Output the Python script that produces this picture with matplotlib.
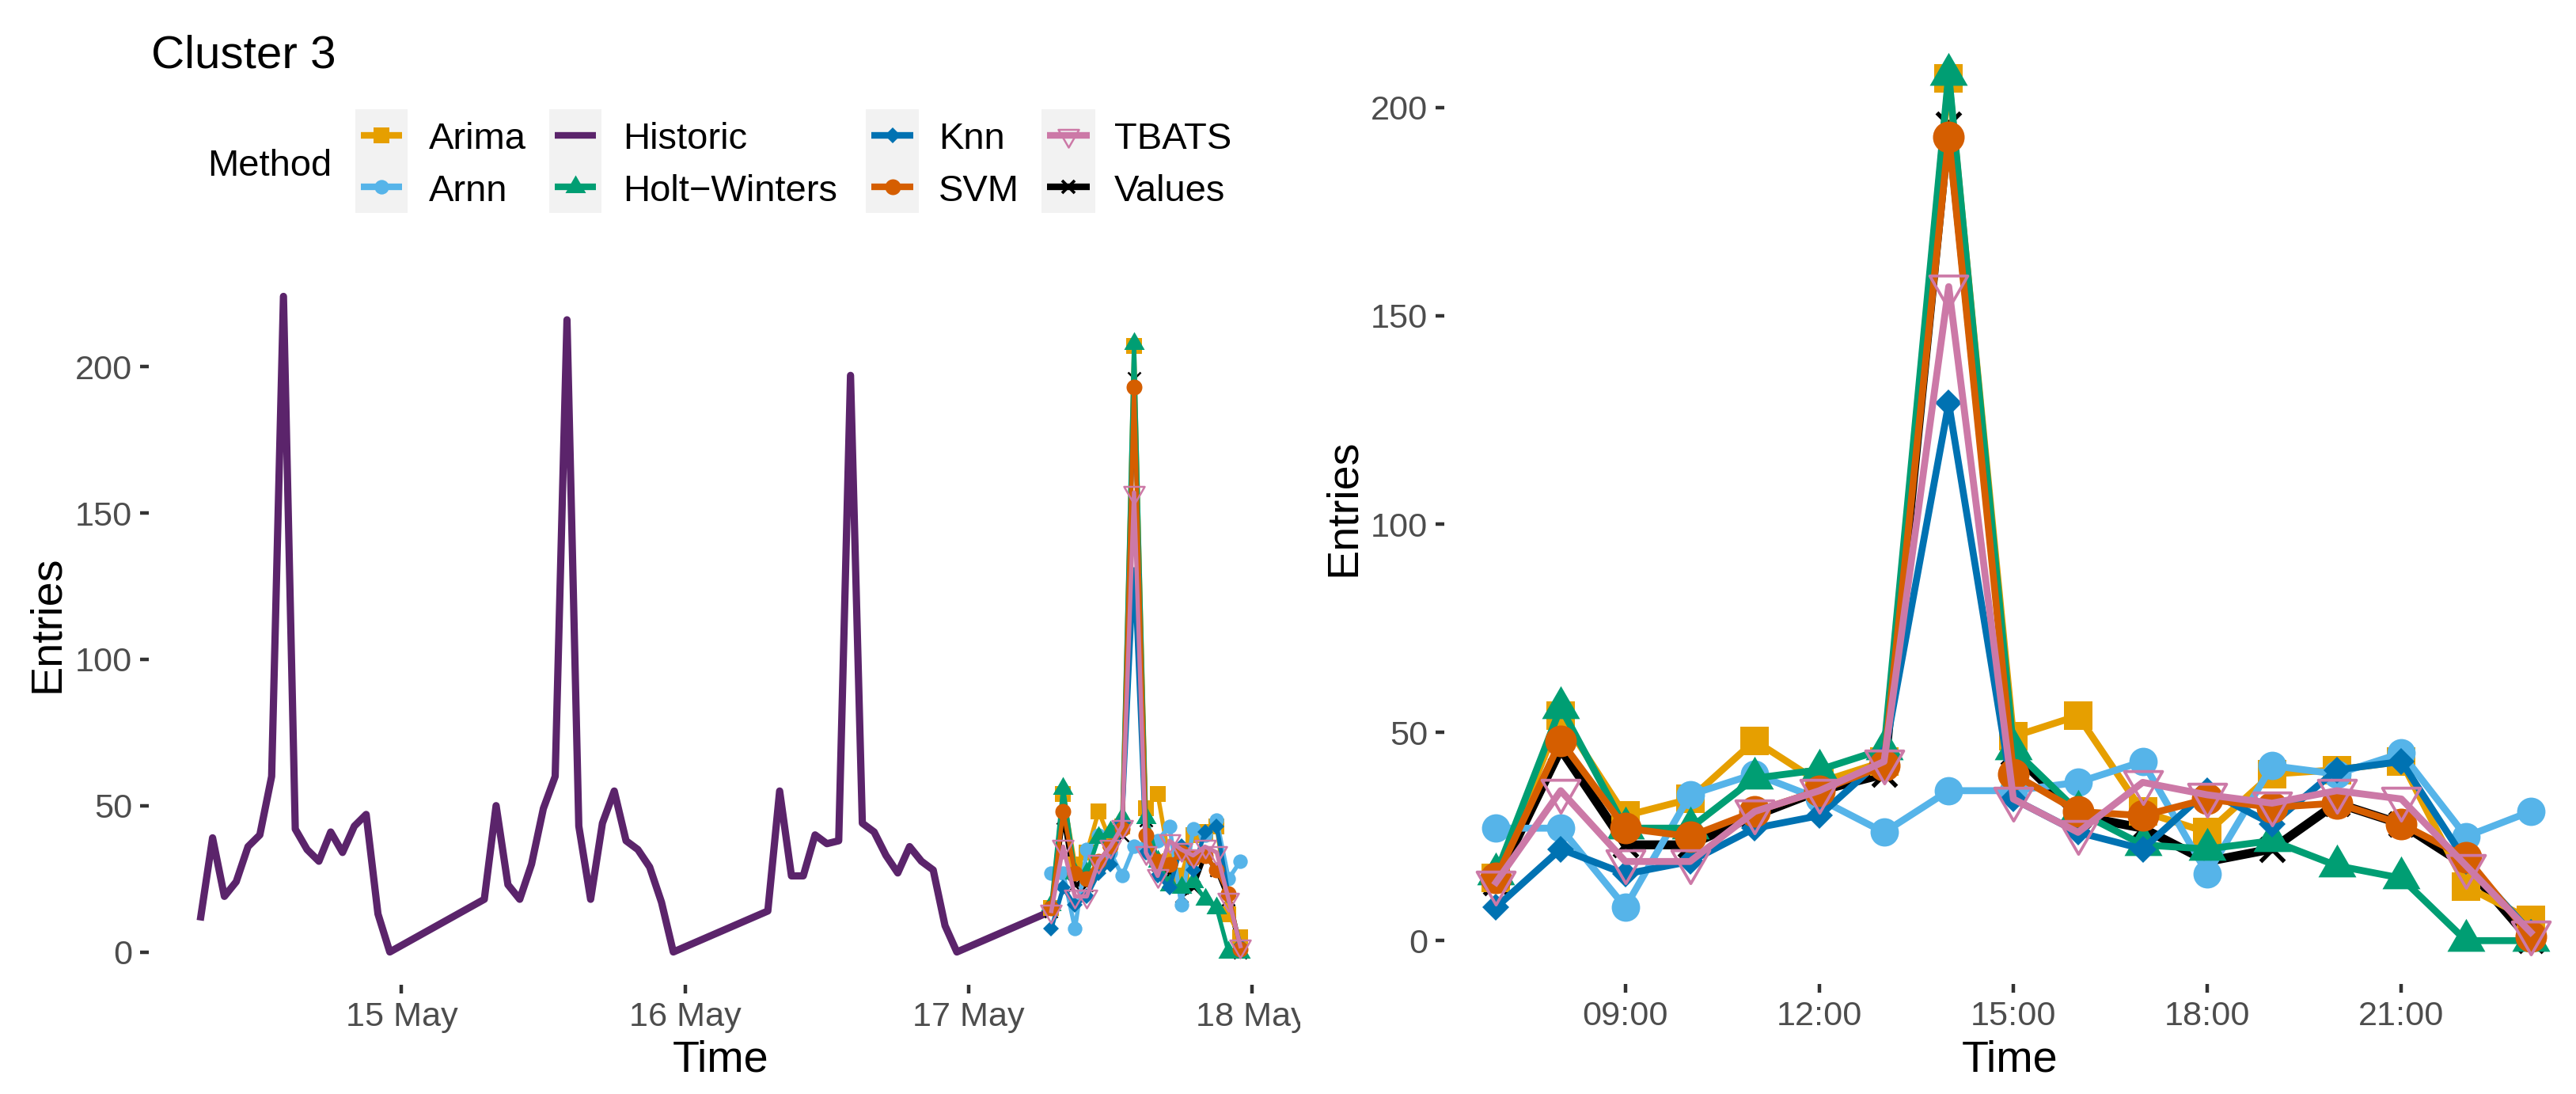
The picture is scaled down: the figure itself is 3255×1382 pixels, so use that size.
import numpy as np
import pandas as pd
import matplotlib
matplotlib.use('Agg')
import matplotlib.pyplot as plt
import matplotlib.dates as mdates
from matplotlib.lines import Line2D
from matplotlib.patches import Rectangle
from matplotlib.path import Path

plt.rcParams['font.family'] = ['Liberation Sans', 'DejaVu Sans']

# ---- data ----------------------------------------------------------------
# historic entries, hourly 07:00-23:00 for 14, 15 and 16 May, then 17 May 07:00
hist_14 = [12, 39, 19, 24, 36, 40, 60, 224, 42, 35, 31, 41, 34, 43, 47, 13, 0]
hist_15 = [18, 50, 23, 18, 30, 49, 60, 216, 43, 18, 44, 55, 38, 35, 29, 17, 0]
hist_16 = [14, 55, 26, 26, 40, 37, 38, 197, 44, 41, 33, 27, 36, 31, 28, 9, 0]
hist_17 = [14]

# forecasts for 17 May, 07:00-23:00
values = [14, 46, 23, 23, 30, 36, 40, 196, 45, 30, 27, 19, 22, 33, 28, 18, 0]
arima = [15, 54, 30, 34, 48, 38, 43, 207, 49, 54, 31, 26, 40, 41, 43, 13, 5]
arnn = [27, 27, 8, 35, 40, 34, 26, 36, 36, 38, 43, 16, 42, 40, 45, 25, 31]
holt_winters = [16, 56, 27, 27, 39, 41, 46, 208, 46, 31, 23, 22, 24, 18, 15, 0, 0]
knn = [8, 22, 16, 19, 27, 30, 44, 129, 34, 26, 22, 36, 28, 41, 43, 19, 2]
svm = [15, 48, 27, 25, 31, 36, 42, 193, 40, 31, 30, 34, 32, 33, 28, 20, 1]
tbats = [14, 36, 19, 19, 31, 36, 43, 157, 34, 26, 38, 35, 33, 36, 34, 18, 2]

day_hours = list(range(7, 24))
hist_days = ['2017-05-14', '2017-05-15', '2017-05-16']
fc_day = '2017-05-17'

hist_time = []
for d in hist_days:
    hist_time += [pd.Timestamp(d) + pd.Timedelta(hours=h) for h in day_hours]
hist_time += [pd.Timestamp(fc_day) + pd.Timedelta(hours=7)]
hist_vals = hist_14 + hist_15 + hist_16 + hist_17
fc_time = [pd.Timestamp(fc_day) + pd.Timedelta(hours=h) for h in day_hours]

forecasts = {
    'Values': values, 'Arima': arima, 'Arnn': arnn, 'Holt\u2212Winters': holt_winters,
    'Knn': knn, 'SVM': svm, 'TBATS': tbats,
}
draw_order = ['Values', 'Arima', 'Arnn', 'Holt\u2212Winters', 'Knn', 'SVM', 'TBATS']
legend_order = ['Arima', 'Arnn', 'Historic', 'Holt\u2212Winters', 'Knn', 'SVM', 'TBATS', 'Values']

colors = {
    'Arima': '#E69F00', 'Arnn': '#56B4E9', 'Historic': '#5B246B',
    'Holt\u2212Winters': '#009E73', 'Knn': '#0072B2', 'SVM': '#D55E00',
    'TBATS': '#CC79A7', 'Values': '#000000',
}

tri_up = Path([(0, 1), (-0.866, -0.5), (0.866, -0.5), (0, 1)], closed=True)
tri_dn = Path([(0, -1), (-0.866, 0.5), (0.866, 0.5), (0, -1)], closed=True)

# marker, size right panel, size left panel, filled
shapes = {
    'Arima': ('s', 8.6, 4.8, True),
    'Arnn': ('o', 8.6, 4.4, True),
    'Holt\u2212Winters': (tri_up, 13.3, 7.2, True),
    'Knn': ('D', 5.9, 3.4, True),
    'SVM': ('o', 9.1, 4.8, True),
    'TBATS': (tri_dn, 13.3, 7.2, False),
    'Values': ('x', 7.4, 3.9, False),
}

# ---- figure --------------------------------------------------------------
W, H = 3255, 1382
fig = plt.figure(figsize=(W / 300, H / 300), dpi=300)

def fx(px):
    return px / W

def fy(py):
    return 1 - py / H

ax1 = fig.add_axes([fx(188), fy(1244), fx(1633) - fx(188), fy(333) - fy(1244)])
ax2 = fig.add_axes([fx(1825), fy(1243), 1 - fx(1825), fy(39) - fy(1243)])

grey_txt = '#4D4D4D'
for ax in (ax1, ax2):
    for s in ax.spines.values():
        s.set_visible(False)
    ax.tick_params(length=2.75, width=1.07, color='#333333', labelcolor=grey_txt,
                   labelsize=10.4, pad=2.2)
    ax.set_yticks([0, 50, 100, 150, 200])

# left: history + forecasts
ax1.plot(hist_time, hist_vals, color=colors['Historic'], lw=2.2, solid_joinstyle='round', zorder=2)
for i, name in enumerate(draw_order):
    mk, _, ms, filled = shapes[name]
    c = colors[name]
    ax1.plot(fc_time, forecasts[name], color=c, lw=1.3, marker=mk, ms=ms,
             mfc=c if filled else 'none', mec=c,
             mew=0.6 if not filled else 0, zorder=3 + i)

t0 = hist_time[0]
t1 = fc_time[-1]
span = t1 - t0
ax1.set_xlim(t0 - span * 0.05, t1 + span * 0.05)
ax1.set_ylim(-11.2, 235.2)
ax1.set_xticks([pd.Timestamp('2017-05-15'), pd.Timestamp('2017-05-16'),
                pd.Timestamp('2017-05-17'), pd.Timestamp('2017-05-18')])
ax1.set_xticklabels(['15 May', '16 May', '17 May', '18 May'])

# right: forecast day only
for i, name in enumerate(draw_order):
    mk, ms, _, filled = shapes[name]
    c = colors[name]
    lw = 2.7 if name == 'Values' else 2.1
    mew = 1.3 if name == 'Values' else (0.9 if not filled else 0)
    if name == 'SVM':
        mew = 0.5
    ax2.plot(fc_time, forecasts[name], color=c, lw=lw, marker=mk, ms=ms,
             mfc=c if filled else 'none', mec=c, mew=mew, zorder=3 + i)

f0 = fc_time[0]
hour = pd.Timedelta(hours=1)
ax2.set_xlim(f0 - 0.8 * hour, f0 - 0.8 * hour + 17.5 * hour)
ax2.set_ylim(-10.4, 218.4)
ax2.set_xticks([pd.Timestamp(fc_day) + pd.Timedelta(hours=h) for h in (9, 12, 15, 18, 21)])
ax2.xaxis.set_major_formatter(mdates.DateFormatter('%H:%M'))

# axis titles
for ax, bottom, top, left, right in ((ax1, 1244, 333, 188, 1633), (ax2, 1243, 39, 1825, 3255)):
    ax.set_xlabel('Time', fontsize=13.4, color='black')
    ax.set_ylabel('Entries', fontsize=13.4, color='black')
    ax.xaxis.label.set_va('baseline')
    ax.xaxis.set_label_coords(0.5, (bottom - 1353) / (bottom - top))
    ax.yaxis.label.set_va('baseline')
    ax.yaxis.set_label_coords((74 - 188) / (1633 - 188) if ax is ax1 else (1712 - 1825) / (3255 - 1825), 0.5)

# the right plot covers the tail of the last date label
fig.add_artist(Rectangle((fx(1643), fy(1320)), fx(1800) - fx(1643), fy(1250) - fy(1320),
                         transform=fig.transFigure, facecolor='white', edgecolor='none', zorder=5))

# title
fig.text(fx(191), fy(85), 'Cluster 3', fontsize=14, va='baseline', ha='left')

# legend, drawn by hand in the ggplot layout
fig.text(fx(262), fy(222), 'Method', fontsize=11.3, va='baseline', ha='left')
key_cols = [(449, 515), (694, 760), (1094, 1161), (1316, 1384)]
label_x = [542, 787, 1186, 1408]
row_mid = [171, 236]
row_base = [188, 254]
for k, name in enumerate(legend_order):
    col, row = k // 2, k % 2
    x0, x1 = key_cols[col]
    if row == 0:
        fig.add_artist(Rectangle((fx(x0), fy(269)), fx(x1) - fx(x0), fy(138) - fy(269),
                                 transform=fig.transFigure, facecolor='#F2F2F2',
                                 edgecolor='none', zorder=1))
    c = colors[name]
    ym = fy(row_mid[row])
    kw = x1 - x0
    fig.add_artist(Line2D([fx(x0 + 0.1 * kw), fx(x1 - 0.1 * kw)], [ym, ym], color=c, lw=2.0,
                          transform=fig.transFigure, zorder=2, solid_capstyle='butt'))
    if name in shapes:
        mk, _, ms, filled = shapes[name]
        fig.add_artist(Line2D([fx((x0 + x1) / 2)], [ym], marker=mk, ms=ms,
                              mfc=c if filled else 'none', mec=c,
                              mew=(0.9 if name == 'Values' else 0.6) if not filled else 0,
                              linestyle='none', transform=fig.transFigure, zorder=3))
    fig.text(fx(label_x[col]), fy(row_base[row]), name, fontsize=11.3, va='baseline', ha='left')

fig.savefig('out.png', dpi=300)
